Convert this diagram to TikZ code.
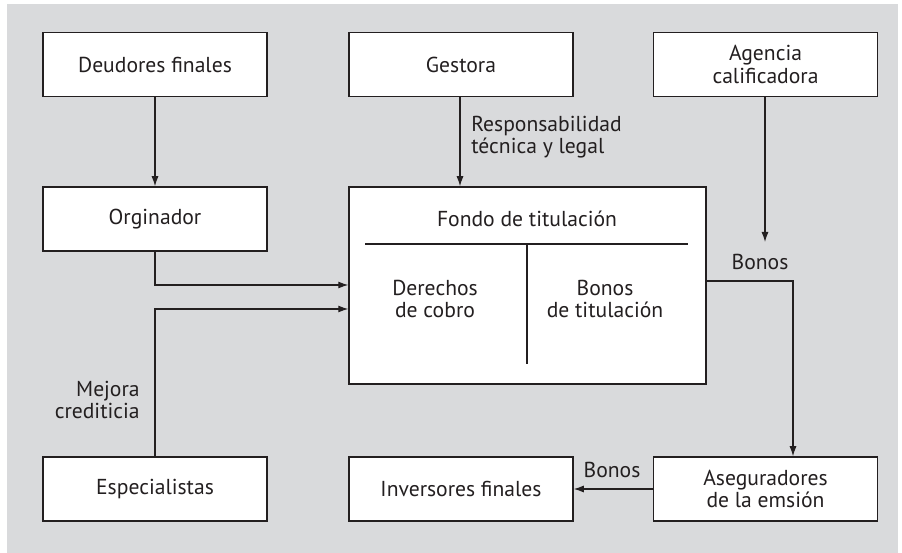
\documentclass[tikz,border=0pt]{standalone}
\usepackage{fontspec}
\setmainfont{PT Sans}
\usetikzlibrary{arrows.meta}
\definecolor{fondogris}{HTML}{D9DADC}
\definecolor{tinta}{HTML}{231F20}
\tikzset{
  caja/.style={draw=tinta, fill=white, line width=0.9pt, minimum width=4.48cm,
    minimum height=1.28cm, align=center, text=tinta},
  flecha/.style={draw=tinta, line width=0.6pt, -{Latex[length=2mm,width=1.4mm]}},
  etiqueta/.style={text=tinta, inner sep=0pt}
}
\begin{document}
\begin{tikzpicture}[x=0.02cm, y=-0.02cm, font=\fontsize{12.3}{12.8}\selectfont]
            \useasboundingbox (0,0) rectangle (902,553);
            \fill[fondogris] (7,4) rectangle (898,553);
            % cajas
            \node[caja] (deudores) at (155,64.5) {Deudores finales};
            \node[caja] (gestora) at (461,64.5) {Gestora};
            \node[caja] (agencia) at (765.5,64.5) {Agencia\\calificadora};
            \node[caja] (orginador) at (155,219) {Orginador};
            \node[caja, minimum width=7.14cm, minimum height=3.94cm] (fondo) at (527.5,285.5) {};
            \node[caja] (especialistas) at (155,489) {Especialistas};
            \node[caja] (inversores) at (461,489) {Inversores finales};
            \node[caja] (aseguradores) at (765.5,489) {Aseguradores\\de la emsión};
            % interior del fondo
            \node[etiqueta] (titulo) at (527,219) {Fondo de titulación};
            \coordinate (lineaA) at (365,244);
            \coordinate (lineaB) at (688,244);
            \coordinate (divisor) at (527,364);
            \draw[tinta, line width=0.7pt] (lineaA) -- (lineaB);
            \draw[tinta, line width=0.7pt] (lineaA -| divisor) -- (divisor);
            \node[etiqueta, align=center] (derechos) at (435,299) {Derechos\\de cobro};
            \node[etiqueta, align=center] (bonostit) at (605,299) {Bonos\\de titulación};
            % flechas
            \draw[flecha] (deudores) -- (orginador);
            \draw[flecha] (gestora.south -| 460,0) -- (fondo.north -| 460,0);
            \coordinate (finagencia) at (765,242);
            \draw[flecha] (agencia.south -| finagencia) -- (finagencia);
            \draw[flecha] (orginador.south) |- (fondo.west |- 0,285);
            \draw[flecha] (especialistas.north) |- (fondo.west |- 0,309);
            \draw[flecha] (fondo.east |- 0,281) -| (aseguradores.north -| 793,0);
            \draw[flecha] (aseguradores) -- (inversores);
            % textos sueltos
            \node[etiqueta, anchor=west, align=left] (responsab) at (471,137) {Responsabilidad\\técnica y legal};
            \node[etiqueta, anchor=east, align=right] (mejora) at (140,400) {Mejora\\crediticia};
            \node[etiqueta] (bonosA) at (760,262) {Bonos};
            \node[etiqueta] (bonosB) at (612,470) {Bonos};
        \end{tikzpicture}
\end{document}
